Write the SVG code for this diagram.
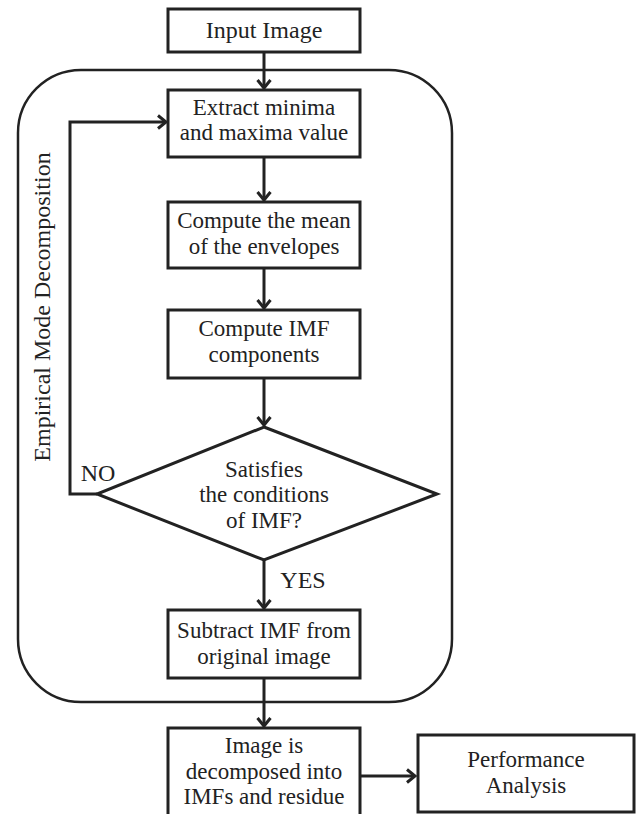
<svg xmlns="http://www.w3.org/2000/svg" width="640" height="814" viewBox="0 0 640 814">
<defs>
<style>
.box{fill:#fff;stroke:#222;stroke-width:3}
.frame{fill:none;stroke:#222;stroke-width:2.5}
.ln{fill:none;stroke:#222;stroke-width:3}
text{font-family:"Liberation Serif","Times New Roman",serif;font-size:23px;fill:#222;text-anchor:middle}
.big{font-size:24px}
</style>
<marker id="arr" markerUnits="userSpaceOnUse" markerWidth="14" markerHeight="16" viewBox="-10 -8 12 16" refX="0" refY="0" orient="auto">
<path d="M-8,-6.5 L0,0 L-8,6.5" fill="none" stroke="#222" stroke-width="3"/>
</marker>
</defs>
<rect width="640" height="814" fill="#fff"/>
<g id="emd-frame">
<rect class="frame" x="18" y="70" width="434" height="632" rx="63" ry="63"/>
<text class="big" transform="translate(50,307) rotate(-90)">Empirical Mode Decomposition</text>
</g>
<g id="connectors">
<line class="ln" x1="264" y1="52" x2="264" y2="88" marker-end="url(#arr)"/>
<line class="ln" x1="264" y1="157" x2="264" y2="200" marker-end="url(#arr)"/>
<line class="ln" x1="264" y1="268" x2="264" y2="308" marker-end="url(#arr)"/>
<line class="ln" x1="264" y1="378" x2="264" y2="425" marker-end="url(#arr)"/>
<line class="ln" x1="264" y1="560" x2="264" y2="608" marker-end="url(#arr)"/>
<line class="ln" x1="264" y1="678" x2="264" y2="726" marker-end="url(#arr)"/>
<line class="ln" x1="360" y1="776" x2="415" y2="776" marker-end="url(#arr)"/>
<polyline class="ln" points="97,494 70,494 70,122 166,122" marker-end="url(#arr)"/>
<text class="big" x="98" y="481">NO</text>
<text class="big" x="303" y="588">YES</text>
</g>
<g id="input">
<rect class="box" x="168" y="9" width="192" height="43"/>
<text class="big" x="264" y="38">Input Image</text>
</g>
<g id="extract">
<rect class="box" x="168" y="90" width="192" height="67"/>
<text x="264" y="115">Extract minima</text>
<text x="264" y="140">and maxima value</text>
</g>
<g id="mean">
<rect class="box" x="168" y="202" width="192" height="66"/>
<text x="264" y="228">Compute the mean</text>
<text x="264" y="253.5">of the envelopes</text>
</g>
<g id="imf">
<rect class="box" x="168" y="310" width="192" height="68"/>
<text x="264" y="336">Compute IMF</text>
<text x="264" y="361.5">components</text>
</g>
<g id="decision">
<polygon class="box" points="264,427 437,494 264,560 97,494"/>
<text x="264" y="476.5">Satisfies</text>
<text x="264" y="502">the conditions</text>
<text x="264" y="527.5">of IMF?</text>
</g>
<g id="subtract">
<rect class="box" x="168" y="610" width="192" height="68"/>
<text x="264" y="638">Subtract IMF from</text>
<text x="264" y="664">original image</text>
</g>
<g id="decomposed">
<rect class="box" x="168" y="728" width="192" height="100"/>
<text x="264" y="753">Image is</text>
<text x="264" y="778.5">decomposed into</text>
<text x="264" y="804">IMFs and residue</text>
</g>
<g id="performance">
<rect class="box" x="418" y="735" width="216" height="77"/>
<text x="526" y="767">Performance</text>
<text x="526" y="793">Analysis</text>
</g>
</svg>
